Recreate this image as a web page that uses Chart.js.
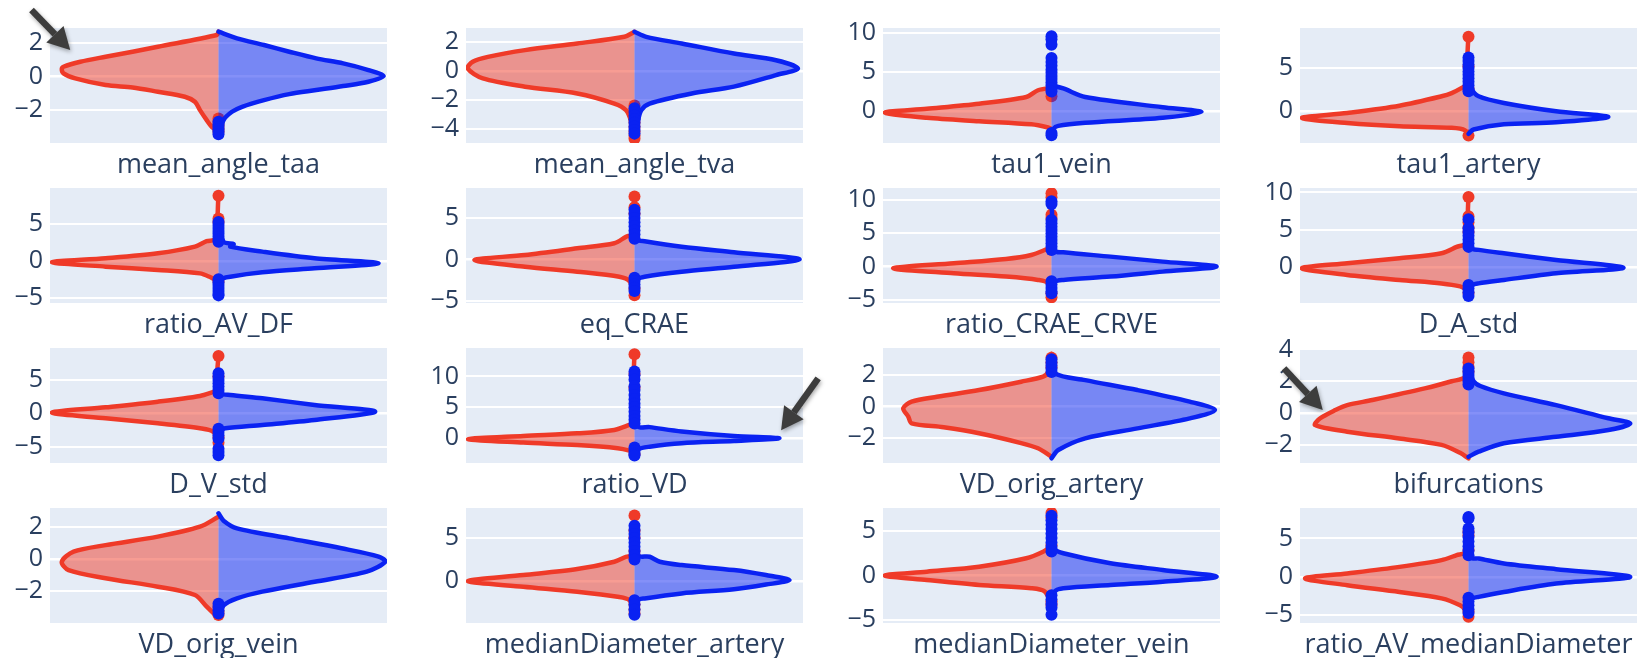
<!DOCTYPE html>
<html>
<head>
<meta charset="utf-8">
<script src="https://cdn.jsdelivr.net/npm/chart.js@4.4.1/dist/chart.umd.min.js"></script>
<style>
  html, body { margin: 0; padding: 0; background: #ffffff; }
  #grid { position: relative; width: 1645px; height: 658px; overflow: hidden; }
  #grid canvas { position: absolute; }
</style>
</head>
<body>
<div id="grid"></div>
<script>
// Feature names, one split violin per panel (row-major, 4 x 4)
const features = [
  'mean_angle_taa', 'mean_angle_tva', 'tau1_vein', 'tau1_artery',
  'ratio_AV_DF', 'eq_CRAE', 'ratio_CRAE_CRVE', 'D_A_std',
  'D_V_std', 'ratio_VD', 'VD_orig_artery', 'bifurcations',
  'VD_orig_vein', 'medianDiameter_artery', 'medianDiameter_vein', 'ratio_AV_medianDiameter'
];

// Value-axis range of each panel
const yRanges = [
  [-3.97, 2.92], [-5.0, 2.96], [-4.09, 10.65], [-3.65, 9.6],
  [-5.74, 9.95], [-5.24, 8.61], [-5.46, 11.8], [-4.83, 10.6],
  [-7.45, 9.79], [-4.0, 14.6], [-3.56, 3.71], [-3.14, 4.09],
  [-4.0, 3.19], [-4.98, 8.58], [-5.32, 7.56], [-6.0, 8.96]
];

// Tick labels on each value axis
const yTicks = [
  [-2, 0, 2], [-4, -2, 0, 2], [0, 5, 10], [0, 5],
  [-5, 0, 5], [-5, 0, 5], [-5, 0, 5, 10], [0, 5, 10],
  [-5, 0, 5], [0, 5, 10], [-2, 0, 2], [-2, 0, 2, 4],
  [-2, 0, 2], [0, 5], [-5, 0, 5], [-5, 0, 5]
];

// Density outline of the first group (left half): [value, relative density]
const redOutlines = [
  [[2.7,0],[2.5,0.01],[1.8,0.36],[1.5,0.51],[1.2,0.67],[0.9,0.82],[0.6,0.92],[0.46,0.93],[0.2,0.92],[-0.1,0.85],[-0.5,0.67],[-0.64,0.51],[-0.9,0.36],[-1.2,0.2],[-1.5,0.14],[-2.0,0.11],[-2.6,0.07],[-3.0,0.04],[-3.3,0]],
  [[2.7,0],[2.35,0.06],[1.89,0.34],[1.43,0.65],[0.96,0.87],[0.62,0.96],[0.16,0.99],[-0.53,0.9],[-1.1,0.65],[-1.57,0.34],[-2.27,0.12],[-2.73,0.05],[-3.5,0.02],[-4.7,0]],
  [[3.0,0],[2.67,0.08],[1.8,0.15],[0.95,0.43],[0.3,0.74],[-0.2,0.99],[-0.86,0.74],[-1.3,0.43],[-1.7,0.12],[-2.1,0.02],[-2.3,0]],
  [[8.8,0],[3.0,0.02],[2.7,0.04],[2.1,0.1],[1.73,0.16],[0.65,0.41],[-0.19,0.72],[-0.77,0.99],[-1.35,0.72],[-1.73,0.41],[-1.9,0.1],[-2.2,0.02],[-3.0,0]],
  [[9.0,0],[3.0,0.02],[2.7,0.07],[1.95,0.14],[1.04,0.36],[0.36,0.67],[-0.18,0.99],[-0.78,0.67],[-1.23,0.36],[-1.7,0.11],[-2.2,0.05],[-2.6,0.02],[-3.0,0]],
  [[7.6,0],[3.0,0.02],[2.75,0.05],[1.95,0.12],[1.35,0.34],[0.54,0.65],[-0.06,0.95],[-0.87,0.65],[-1.47,0.34],[-2.07,0.09],[-2.6,0.03],[-4.4,0]],
  [[11.0,0],[2.8,0.02],[2.5,0.04],[1.75,0.12],[1.15,0.27],[0.5,0.58],[-0.25,0.94],[-1.0,0.58],[-1.5,0.27],[-2.0,0.08],[-2.5,0.02],[-4.6,0]],
  [[9.4,0],[3.2,0.02],[2.7,0.07],[1.84,0.16],[1.17,0.41],[0.5,0.72],[-0.17,0.99],[-1.07,0.72],[-1.74,0.41],[-2.2,0.16],[-2.6,0.05],[-3.0,0.02],[-3.6,0]],
  [[8.6,0],[3.3,0.02],[3.2,0.03],[2.6,0.11],[1.74,0.36],[0.9,0.67],[0.1,0.99],[-0.75,0.67],[-1.5,0.36],[-2.25,0.11],[-2.8,0.03],[-4.5,0]],
  [[13.6,0],[2.3,0.02],[2.16,0.03],[1.35,0.12],[0.8,0.34],[0.37,0.66],[-0.16,0.99],[-0.7,0.66],[-1.1,0.34],[-1.6,0.1],[-2.0,0.03],[-2.3,0.01],[-2.8,0]],
  [[3.35,0],[2.2,0.02],[1.9,0.05],[1.58,0.18],[1.05,0.43],[0.63,0.68],[0.32,0.83],[-0.1,0.88],[-0.63,0.85],[-1.05,0.83],[-1.3,0.64],[-1.68,0.43],[-2.3,0.18],[-2.63,0.08],[-3.16,0]],
  [[3.65,0],[2.28,0.02],[2.0,0.1],[1.55,0.26],[0.82,0.57],[0.5,0.72],[0.19,0.79],[-0.33,0.88],[-0.75,0.91],[-1.17,0.72],[-1.6,0.41],[-2.0,0.16],[-2.5,0.05],[-2.85,0]],
  [[2.64,0],[2.02,0.11],[1.4,0.36],[0.87,0.67],[0.46,0.86],[-0.17,0.93],[-0.69,0.89],[-1.2,0.67],[-1.73,0.36],[-2.25,0.14],[-2.98,0.07],[-3.7,0]],
  [[7.7,0],[3.0,0.02],[2.83,0.05],[2.24,0.12],[1.38,0.34],[0.67,0.66],[-0.04,0.99],[-0.71,0.66],[-1.3,0.34],[-1.89,0.1],[-2.3,0.03],[-3.9,0]],
  [[7.0,0],[3.1,0.02],[2.67,0.05],[1.93,0.15],[0.99,0.43],[0.43,0.74],[0,0.99],[-0.5,0.74],[-1.06,0.43],[-1.43,0.12],[-1.8,0.04],[-3.3,0]],
  [[5.9,0],[3.2,0.02],[2.83,0.07],[2.18,0.16],[1.3,0.41],[0.44,0.72],[-0.2,0.97],[-1.08,0.72],[-1.96,0.41],[-2.8,0.16],[-3.7,0.05],[-4.3,0.02],[-5.4,0]]
];

// Density outline of the second group (right half): [value, relative density]
const blueOutlines = [
  [[2.7,0],[2.3,0.11],[1.9,0.27],[1.5,0.42],[1.1,0.58],[0.8,0.74],[0.4,0.89],[0.04,0.98],[-0.3,0.89],[-0.56,0.74],[-0.8,0.58],[-1.04,0.42],[-1.4,0.27],[-1.8,0.14],[-2.1,0.08],[-2.6,0.03],[-3.5,0]],
  [[2.7,0],[2.35,0.07],[1.89,0.28],[1.19,0.59],[0.73,0.84],[0.16,0.97],[-0.3,0.84],[-1.1,0.59],[-1.57,0.34],[-2.27,0.09],[-2.73,0.04],[-3.5,0.02],[-4.6,0]],
  [[3.3,0],[2.9,0.07],[1.8,0.2],[0.5,0.66],[-0.13,0.89],[-0.86,0.66],[-1.5,0.2],[-1.9,0.04],[-2.3,0.01],[-3.0,0]],
  [[6.2,0],[2.6,0.02],[1.73,0.06],[0.96,0.21],[0,0.52],[-0.65,0.83],[-1.27,0.52],[-1.5,0.21],[-2.1,0.03],[-2.6,0]],
  [[5.4,0],[2.6,0.03],[2.3,0.09],[1.95,0.07],[1.27,0.26],[0.36,0.57],[-0.32,0.95],[-1.0,0.57],[-1.55,0.26],[-2.15,0.07],[-2.5,0.02],[-4.7,0]],
  [[6.0,0],[2.4,0.02],[2.2,0.06],[1.54,0.28],[0.87,0.59],[0.02,0.98],[-0.87,0.59],[-1.47,0.28],[-2.07,0.06],[-2.4,0.02],[-3.9,0]],
  [[9.8,0],[2.4,0.02],[2.15,0.07],[1.5,0.35],[0.75,0.66],[0,0.98],[-0.75,0.66],[-1.5,0.35],[-2.0,0.07],[-2.3,0.02],[-4.0,0]],
  [[6.5,0],[2.5,0.02],[2.3,0.06],[1.84,0.21],[0.94,0.52],[-0.1,0.92],[-0.85,0.52],[-1.74,0.21],[-2.2,0.06],[-2.5,0.02],[-4.0,0]],
  [[6.0,0],[3.0,0.02],[2.75,0.07],[2.25,0.26],[1.25,0.57],[0.25,0.93],[-1.0,0.57],[-1.75,0.26],[-2.25,0.04],[-2.5,0.02],[-6.5,0]],
  [[10.8,0],[2.0,0.02],[1.8,0.09],[1.1,0.28],[0.37,0.59],[0,0.86],[-0.44,0.59],[-0.8,0.28],[-1.36,0.09],[-1.8,0.02],[-2.8,0]],
  [[3.1,0],[2.1,0.02],[1.68,0.2],[1.05,0.51],[0.32,0.82],[-0.21,0.97],[-0.74,0.82],[-1.37,0.51],[-2.0,0.2],[-2.74,0.04],[-3.26,0]],
  [[2.85,0],[2.0,0.03],[1.7,0.07],[1.24,0.21],[0.5,0.52],[-0.33,0.83],[-0.65,0.96],[-1.07,0.83],[-1.49,0.52],[-1.9,0.21],[-2.43,0.06],[-2.75,0]],
  [[2.86,0],[2.4,0.03],[1.92,0.11],[1.29,0.42],[0.67,0.73],[0.15,0.95],[-0.17,0.99],[-0.79,0.88],[-1.42,0.57],[-2.04,0.26],[-2.46,0.11],[-2.9,0.03],[-3.6,0]],
  [[6.6,0],[3.0,0.02],[2.83,0.09],[2.24,0.15],[1.85,0.28],[1.26,0.59],[0.67,0.78],[0.08,0.92],[-0.45,0.78],[-1.0,0.59],[-1.49,0.28],[-2.08,0.06],[-2.3,0.02],[-4.0,0]],
  [[6.7,0],[3.0,0.02],[2.49,0.07],[1.37,0.35],[0.62,0.66],[-0.13,0.98],[-0.69,0.66],[-1.06,0.35],[-1.43,0.07],[-1.8,0.02],[-4.4,0]],
  [[7.8,0],[2.5,0.02],[2.4,0.06],[1.75,0.21],[1.0,0.52],[0,0.96],[-0.87,0.52],[-1.96,0.21],[-2.6,0.06],[-2.9,0.02],[-4.8,0]]
];

// Outlying observations of each group
const redOutliers = [
  [-2.5,-2.7,-2.9,-3.1,-3.3],
  [-2.4,-2.7,-3.0,-3.3,-3.6,-3.9,-4.2,-4.5,-4.7],
  [1.9],
  [8.6,5.2,2.6,-2.8],
  [8.9,5.8,5.3,-2.8],
  [7.6,6.3,5.5,-3.5,-4.3],
  [11.0,10.4,7.8,7.3,-4.0,-4.6],
  [9.4,6.8,6.0,5.3,4.7,-3.5],
  [8.6,5.5,-3.6,-4.4],
  [13.6,10.4,8.2,-2.6],
  [2.5,2.8,3.1],
  [2.6,2.9,3.2,3.5],
  [-3.0,-3.3,-3.5],
  [7.7,5.9,5.1,3.5,3.0,-2.8,-3.4,-3.9],
  [7.0,6.5,3.4,-2.9,-3.3],
  [5.9,5.4,3.5,-4.5,-5.2]
];
const blueOutliers = [
  [-2.7,-2.85,-3.0,-3.15,-3.3,-3.45],
  [-2.6,-2.85,-3.1,-3.35,-3.6,-3.85,-4.1,-4.35],
  [9.6,9.2,8.5,6.8,6.3,5.8,5.3,4.9,4.5,4.1,3.7,3.3,2.9,2.5,-2.8,-3.1],
  [6.2,5.8,5.4,5.0,4.6,4.2,3.8,3.4,3.0,2.6,2.3],
  [5.3,4.9,4.5,4.1,3.7,3.3,2.9,2.6,-2.5,-2.9,-3.3,-3.7,-4.1,-4.5,-4.7],
  [6.0,5.5,5.0,4.5,4.0,3.5,3.0,2.5,-2.2,-2.6,-3.0,-3.4,-3.8],
  [9.8,9.4,7.0,6.5,6.0,5.5,5.0,4.5,4.0,3.5,3.0,2.5,-2.2,-2.7,-3.2,-3.7,-4.0],
  [6.4,5.2,4.7,4.2,3.7,3.2,2.7,-2.4,-2.9,-3.4,-3.9],
  [6.0,5.5,5.0,4.5,4.0,3.5,3.0,-2.3,-2.8,-3.3,-3.8,-5.3,-5.8,-6.3],
  [10.8,10.2,9.5,8.4,7.8,7.0,6.3,5.6,5.0,4.3,3.6,3.0,2.4,-1.5,-2.0,-2.5,-2.8],
  [2.2,2.4,2.6,2.8,3.0],
  [1.8,2.0,2.2,2.4,2.6,2.8],
  [-2.8,-3.0,-3.2,-3.4],
  [6.5,6.0,5.5,5.0,4.5,4.0,3.5,3.0,2.5,-2.3,-2.8,-3.4,-4.0],
  [6.7,6.2,5.7,5.2,4.7,4.2,3.7,3.2,2.7,-2.2,-2.7,-3.2,-3.6,-4.4],
  [7.8,7.6,6.3,5.8,5.2,4.6,4.0,3.4,2.8,-2.7,-3.2,-3.7,-4.2,-4.7]
];

// Call-out arrows: panel index, tail and head in that panel's data units
const arrowPanels = [0, 9, 11];
const arrowTails = [[-1.11, 4.0], [1.09, 9.7], [-1.095, 2.81]];
const arrowHeads = [[-0.88, 1.6], [0.87, 1.3], [-0.865, 0.19]];

// ---- styling / layout ----
const RED = '#EF3A28', RED_FILL = 'rgba(239,58,40,0.5)';
const BLUE = '#0A22F2', BLUE_FILL = 'rgba(10,34,242,0.5)';
const TEXT = '#2a3f5f';
const FONT = '"Open Sans", "DejaVu Sans", sans-serif';
const TICK_SIZE = 25, LABEL_SIZE = 27;
const PLOT_LEFT = [50, 466, 883, 1300];
const PLOT_TOP = [28, 188, 348, 508];
const PLOT_W = 337, PLOT_H = 115;
const AXIS_W = 50, AXIS_H = 45, PAD_TOP = 28, PAD_RIGHT = 30;

const plotBackground = {
  id: 'plotBackground',
  beforeDraw(chart) {
    const { ctx, chartArea: a } = chart;
    ctx.save();
    ctx.fillStyle = '#E5ECF6';
    ctx.fillRect(a.left, a.top, a.right - a.left, a.bottom - a.top);
    ctx.restore();
  }
};

const calloutArrow = {
  id: 'calloutArrow',
  afterDraw(chart, args, opts) {
    if (!opts || !opts.tail) return;
    const xs = chart.scales.x, ys = chart.scales.y, ctx = chart.ctx;
    const x1 = xs.getPixelForValue(opts.tail[0]), y1 = ys.getPixelForValue(opts.tail[1]);
    const x2 = xs.getPixelForValue(opts.head[0]), y2 = ys.getPixelForValue(opts.head[1]);
    const ang = Math.atan2(y2 - y1, x2 - x1);
    const len = 22, half = 12;
    const bx = x2 - len * Math.cos(ang), by = y2 - len * Math.sin(ang);
    ctx.save();
    ctx.shadowColor = 'rgba(0,0,0,0.35)';
    ctx.shadowBlur = 4;
    ctx.shadowOffsetX = 1;
    ctx.shadowOffsetY = 2;
    ctx.strokeStyle = '#3d3d3d';
    ctx.fillStyle = '#3d3d3d';
    ctx.lineWidth = 6.5;
    ctx.beginPath();
    ctx.moveTo(x1, y1);
    ctx.lineTo(bx, by);
    ctx.stroke();
    ctx.beginPath();
    ctx.moveTo(x2, y2);
    ctx.lineTo(bx + half * Math.sin(ang), by - half * Math.cos(ang));
    ctx.lineTo(bx - half * Math.sin(ang), by + half * Math.cos(ang));
    ctx.closePath();
    ctx.fill();
    ctx.restore();
  }
};

function halfViolin(outline, side) {
  return outline.map(([v, d]) => ({ x: side * d, y: v }));
}
function centerPoints(values) {
  return values.map(v => ({ x: 0, y: v }));
}

const grid = document.getElementById('grid');

features.forEach((name, i) => {
  const row = Math.floor(i / 4), col = i % 4;
  const canvas = document.createElement('canvas');
  canvas.width = AXIS_W + PLOT_W + PAD_RIGHT;
  canvas.height = PAD_TOP + PLOT_H + AXIS_H;
  canvas.style.left = (PLOT_LEFT[col] - AXIS_W) + 'px';
  canvas.style.top = (PLOT_TOP[row] - PAD_TOP) + 'px';
  grid.appendChild(canvas);

  const a = arrowPanels.indexOf(i);
  const arrowOpts = a >= 0 ? { tail: arrowTails[a], head: arrowHeads[a] } : {};

  new Chart(canvas, {
    type: 'scatter',
    data: {
      datasets: [
        {
          data: halfViolin(redOutlines[i], -1),
          showLine: true, fill: 'shape', tension: 0.3,
          borderColor: RED, backgroundColor: RED_FILL, borderWidth: 4.5,
          borderJoinStyle: 'round', borderCapStyle: 'round',
          pointRadius: 0, order: 4
        },
        {
          data: centerPoints(redOutliers[i]),
          showLine: false, pointRadius: 6, pointBorderWidth: 0,
          backgroundColor: RED, borderColor: RED, order: 3
        },
        {
          data: halfViolin(blueOutlines[i], 1),
          showLine: true, fill: 'shape', tension: 0.3,
          borderColor: BLUE, backgroundColor: BLUE_FILL, borderWidth: 4.5,
          borderJoinStyle: 'round', borderCapStyle: 'round',
          pointRadius: 0, order: 2
        },
        {
          data: centerPoints(blueOutliers[i]),
          showLine: false, pointRadius: 6, pointBorderWidth: 0,
          backgroundColor: BLUE, borderColor: BLUE, order: 1
        }
      ]
    },
    options: {
      responsive: false,
      animation: false,
      devicePixelRatio: 1,
      layout: { padding: { top: PAD_TOP, right: PAD_RIGHT, left: 0, bottom: 0 } },
      plugins: {
        legend: { display: false },
        tooltip: { enabled: false },
        calloutArrow: arrowOpts
      },
      scales: {
        x: {
          type: 'linear', min: -1, max: 1,
          afterBuildTicks(axis) { axis.ticks = [{ value: 0 }]; },
          afterFit(scale) { scale.height = AXIS_H; },
          grid: { display: false },
          border: { display: false },
          ticks: {
            autoSkip: false, maxRotation: 0, padding: -2,
            color: TEXT, font: { family: FONT, size: LABEL_SIZE },
            callback: () => name
          }
        },
        y: {
          type: 'linear', min: yRanges[i][0], max: yRanges[i][1],
          afterBuildTicks(axis) { axis.ticks = yTicks[i].map(v => ({ value: v })); },
          afterFit(scale) { scale.width = AXIS_W; },
          grid: {
            color: '#ffffff', drawTicks: false,
            lineWidth: c => (c.tick && c.tick.value === 0 ? 2.5 : 2)
          },
          border: { display: false },
          ticks: {
            autoSkip: false, padding: 7,
            color: TEXT, font: { family: FONT, size: TICK_SIZE },
            callback: v => String(v).replace('-', '\u2212')
          }
        }
      }
    },
    plugins: [plotBackground, calloutArrow]
  });
});
</script>
</body>
</html>
